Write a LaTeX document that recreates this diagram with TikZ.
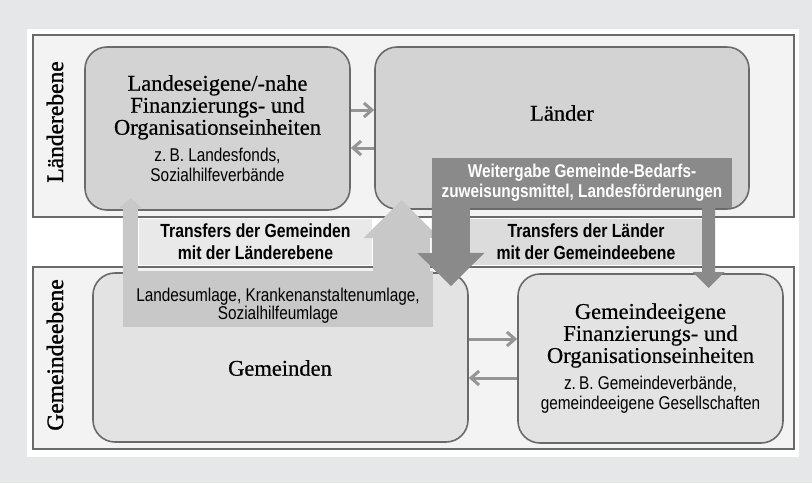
\documentclass[tikz,border=0pt]{standalone}
\usepackage{fontspec}
\setmainfont[FakeBold=0.5]{Liberation Serif}
\newfontfamily\levelserif[FakeBold=1.4]{Liberation Serif}
\newfontfamily\condsans[FakeStretch=0.83]{Liberation Sans}
\usetikzlibrary{positioning,arrows.meta}

\definecolor{pagebg}{HTML}{E6E7E8}
\definecolor{bandfill}{HTML}{F3F3F3}
\definecolor{edgegray}{HTML}{6A6A6A}
\definecolor{unitdark}{HTML}{D3D3D3}
\definecolor{unitlight}{HTML}{E3E3E3}
\definecolor{flowlight}{HTML}{C8C8C8}
\definecolor{flowdark}{HTML}{8A8A8A}
\definecolor{linkgray}{HTML}{959595}
\definecolor{taggem}{HTML}{E9E9E9}
\definecolor{taglae}{HTML}{DCDCDC}

\newcommand\subnote[1]{{\condsans\fontsize{18.5}{19}\selectfont #1}}

\begin{document}
\begin{tikzpicture}[x=1pt, y=-1pt, font=\fontsize{22.5}{22}\selectfont,
  band/.style={draw=edgegray, line width=1.6pt, fill=bandfill},
  unit/.style={draw=edgegray, line width=1.6pt, rounded corners=22pt, align=center, inner sep=0pt},
  level/.style={rotate=90, font=\levelserif\fontsize{23.5}{23}\selectfont},
  tag/.style={font=\condsans\bfseries\fontsize{19}{22}\selectfont, align=center, inner sep=0pt},
  link/.style={draw=linkgray, line width=3pt, -{Straight Barb[length=8pt,width=14pt]}},
  fatlight/.style={draw=flowlight},
  fatdark/.style={draw=flowdark}]
\fill[pagebg] (0,0) rectangle (812,483);
\fill[white] (27,29) rectangle (799,457);
\draw[band] (33,35) rectangle (794,217);
\draw[band] (33,267) rectangle (794,449);
\node[level] (lvlland) at (55,122) {Länderebene};
\node[level] (lvlgem) at (55,355) {Gemeindeebene};

% Einheiten
\node[unit, fill=unitdark, minimum width=265pt, minimum height=163pt] (lfe) at (217.5,128.5)
  {Landeseigene/-nahe\\Finanzierungs- und\\Organisationseinheiten\\[5pt]\subnote{z.\,B. Landesfonds,}\\[-2pt]\subnote{Sozialhilfeverbände}};
\node[unit, fill=unitdark, minimum width=374pt, minimum height=162pt] (laender) at (562,128) {};
\node (laendertxt) at (562,113) {Länder};
\node[unit, fill=unitlight, minimum width=375pt, minimum height=169pt] (gem) at (280.5,357.5) {};
\node (gemtxt) at (280,368) {Gemeinden};
\node[unit, fill=unitlight, minimum width=265pt, minimum height=169pt] (geig) at (650.5,358.5)
  {Gemeindeeigene\\Finanzierungs- und\\Organisationseinheiten\\[5pt]\subnote{z.\,B. Gemeindeverbände,}\\[-2pt]\subnote{gemeindeeigene Gesellschaften}};

\draw[link] (lfe.east |- 0,110) -- (laender.west |- 0,110);
\draw[link] (laender.west |- 0,148) -- (lfe.east |- 0,148);
\draw[link] (gem.east |- 0,339) -- (geig.west |- 0,339);
\draw[link] (geig.west |- 0,378) -- (gem.east |- 0,378);

% Transfers der Gemeinden
\node[tag, fill=taggem, minimum width=233pt, minimum height=46pt] (tgem) at (255.5,242)
  {Transfers der Gemeinden\\mit der Länderebene};
\node[fill=flowlight, minimum width=310pt, minimum height=56pt, inner sep=0pt] (umlage) at (278,299) {};
\coordinate (uptip1) at (130.5,198);
\coordinate (uptip2) at (401.5,200);
\draw[fatlight, line width=15pt, -{Triangle[width=23pt,length=10pt,line width=0pt]}]
  ([xshift=7.5pt,yshift=-4pt]umlage.north west) -- (uptip1);
\draw[fatlight, line width=57pt, -{Triangle[width=76pt,length=38pt,line width=0pt]}]
  ([xshift=-31.5pt,yshift=-4pt]umlage.north east) -- (uptip2);
\node[font=\condsans\fontsize{18.5}{18}\selectfont, align=center, inner sep=0pt] (umlagetxt) at (278,306)
  {Landesumlage, Krankenanstaltenumlage,\\Sozialhilfeumlage};

% Transfers der Laender
\node[tag, fill=taglae, minimum width=232pt, minimum height=46pt] (tlae) at (586,242)
  {Transfers der Länder\\mit der Gemeindeebene};
\node[tag, fill=flowdark, text=white, font=\condsans\bfseries\fontsize{18.5}{20}\selectfont,
  minimum width=300pt, minimum height=50pt] (weiter) at (582,183)
  {Weitergabe Gemeinde-Bedarfs-\\zuweisungsmittel, Landesförderungen};
\coordinate (downtip1) at (451,286);
\coordinate (downtip2) at (708.5,288);
\draw[fatdark, line width=38pt, -{Triangle[width=67pt,length=33pt,line width=0pt]}]
  ([xshift=19pt,yshift=4pt]weiter.south west) -- (downtip1);
\draw[fatdark, line width=13pt, -{Triangle[width=32pt,length=16pt,line width=0pt]}]
  ([xshift=-23.5pt,yshift=4pt]weiter.south east) -- (downtip2);
\end{tikzpicture}
\end{document}
